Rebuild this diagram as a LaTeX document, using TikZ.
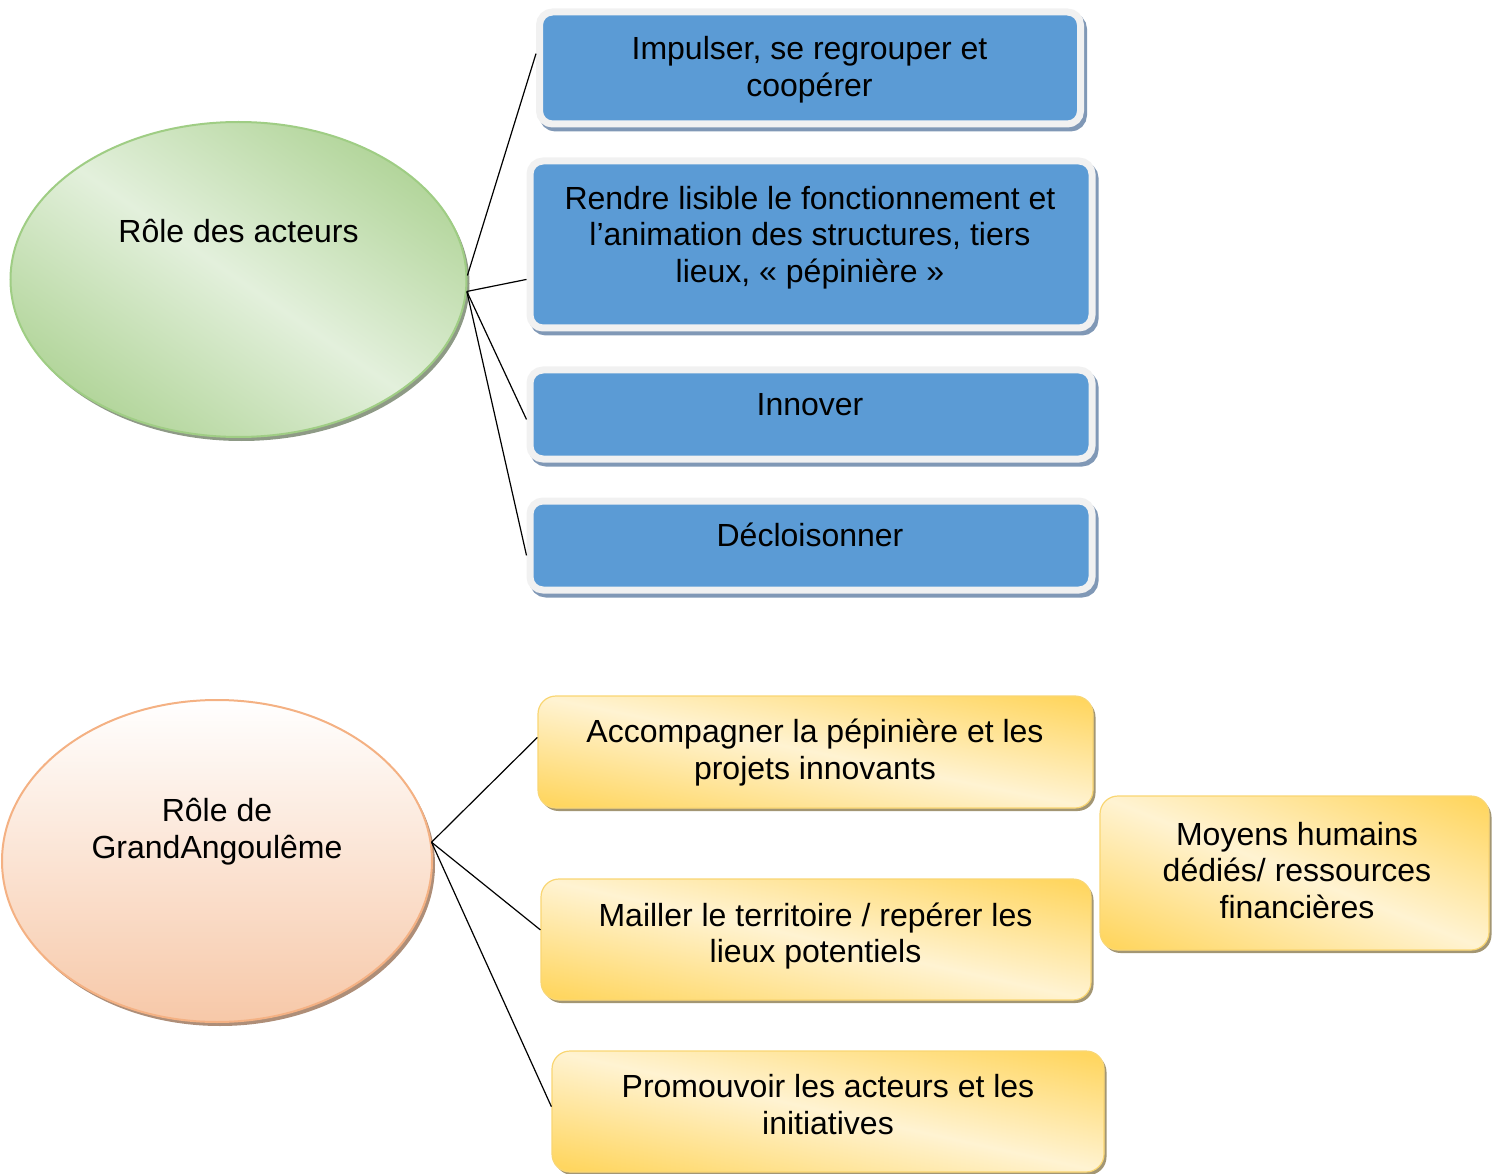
\documentclass[tikz,border=0pt]{standalone}
\usepackage{fontspec}
\setmainfont{Liberation Sans}
\usepackage{tikz}
\usepackage{xcolor}
\usetikzlibrary{shapes.geometric,shadows}

\definecolor{bleu}{HTML}{5B9BD5}
\definecolor{bordbleu}{HTML}{F1F1F1}
\definecolor{ombrebleu}{HTML}{8098B6}
\definecolor{orfonce}{HTML}{FFD660}
\definecolor{orclair}{HTML}{FFF3D2}
\definecolor{bordor}{HTML}{F9D673}
\definecolor{ombreor}{HTML}{A39673}
\definecolor{vertfonce}{HTML}{A9D08E}
\definecolor{vertclair}{HTML}{E3F0DC}
\definecolor{bordvert}{HTML}{9FCD84}
\definecolor{ombrevert}{HTML}{8E9A86}
\definecolor{peche}{HTML}{F7C8A8}
\definecolor{bordpeche}{HTML}{F4B183}
\definecolor{ombrepeche}{HTML}{AE8E78}

\pgfdeclarehorizontalshading{reflor}{100bp}{color(0bp)=(orfonce); color(17bp)=(orfonce);
  color(50bp)=(orclair); color(83bp)=(orfonce); color(100bp)=(orfonce)}
\pgfdeclarehorizontalshading{reflvert}{100bp}{color(0bp)=(vertfonce); color(20bp)=(vertfonce);
  color(50bp)=(vertclair); color(80bp)=(vertfonce); color(100bp)=(vertfonce)}

\tikzset{
  texte/.style={align=center, inner sep=0pt, font=\fontsize{32}{36.7}\selectfont},
  lien/.style={line width=1.2pt},
  % degrade en diagonale, etire sur la boite
  degrade/.style={path picture={
    \pgftransformreset
    \pgfpointdiff{\pgfpointanchor{path picture bounding box}{south west}}{\pgfpointanchor{path picture bounding box}{north east}}%
    \pgfgetlastxy{\largeur}{\hauteur}%
    \pgfmathsetmacro\echx{\largeur/50}%
    \pgfmathsetmacro\echy{\hauteur/50}%
    \pgftransformshift{\pgfpointanchor{path picture bounding box}{center}}%
    \pgftransformxscale{\echx}\pgftransformyscale{\echy}\pgftransformrotate{45}%
    \pgflowlevelsynccm
    \pgfuseshading{#1}}},
  boitebleue/.style={rectangle, rounded corners=13pt, fill=bleu, draw=bordbleu, line width=7pt,
    drop shadow={shadow xshift=3pt, shadow yshift=-4pt, fill=ombrebleu, draw=ombrebleu, opacity=1}},
  boiteor/.style={rectangle, rounded corners=18pt, fill=orclair, degrade=reflor, draw=bordor, line width=1.2pt,
    drop shadow={shadow xshift=2.5pt, shadow yshift=-3pt, fill=ombreor, opacity=1}},
}

\begin{document}
\begin{tikzpicture}[x=1pt,y=-1pt]
  \useasboundingbox (0,0) rectangle (1492,1174);

  % role des acteurs
  \node[ellipse, minimum width=456pt, minimum height=315pt, inner sep=0pt, fill=vertclair, degrade=reflvert,
    draw=bordvert, line width=2pt, drop shadow={shadow xshift=3pt, shadow yshift=-4pt, fill=ombrevert, opacity=1}]
    (acteurs) at (238.5,279.5) {};
  \node[texte] (tacteurs) at (238.5,231) {Rôle des acteurs};

  \node[boitebleue, minimum width=541pt, minimum height=112pt] (impulser) at (810,68) {};
  \node[boitebleue, minimum width=562pt, minimum height=167pt] (lisible) at (811,244.5) {};
  \node[boitebleue, minimum width=562pt, minimum height=89pt] (innover) at (811,414.5) {};
  \node[boitebleue, minimum width=562pt, minimum height=89pt] (decloisonner) at (811,545.5) {};

  \node[texte] (timpulser) at (809.5,69.5) {Impulser, se regrouper et\\coopérer};
  \node[texte] (tlisible) at (810,237.5) {Rendre lisible le fonctionnement et\\l’animation des structures, tiers\\lieux, « pépinière »};
  \node[texte] (tinnover) at (810,405) {Innover};
  \node[texte] (tdecloisonner) at (810,534.5) {Décloisonner};

  \draw[lien] (acteurs.1) -- (impulser.177.5);
  \draw[lien] (acteurs.-3) -- (lisible.187);
  \draw[lien] (acteurs.-3) -- (innover.181.3);
  \draw[lien] (acteurs.-3) -- (decloisonner.182.1);

  % role de GrandAngouleme
  \node[ellipse, minimum width=430pt, minimum height=322pt, inner sep=0pt, top color=white, bottom color=peche,
    draw=bordpeche, line width=2pt, drop shadow={shadow xshift=3pt, shadow yshift=-4pt, fill=ombrepeche, opacity=1}]
    (ga) at (217,861) {};
  \node[texte] (tga) at (217,832) {Rôle de\\GrandAngoulême};

  \node[boiteor, minimum width=555pt, minimum height=112pt] (accompagner) at (815.5,752) {};
  \node[boiteor, minimum width=550pt, minimum height=121pt] (mailler) at (816,939.5) {};
  \node[boiteor, minimum width=552pt, minimum height=121pt] (promouvoir) at (828,1111.5) {};
  \node[boiteor, minimum width=389pt, minimum height=154pt] (moyens) at (1294.5,873) {};

  \node[texte] (taccompagner) at (815,752.5) {Accompagner la pépinière et les\\projets innovants};
  \node[texte] (tmailler) at (815.5,936) {Mailler le territoire / repérer les\\lieux potentiels};
  \node[texte] (tpromouvoir) at (828,1104.5) {Promouvoir les acteurs et les\\initiatives};
  \node[texte] (tmoyens) at (1297,870.5) {Moyens humains\\dédiés/ ressources\\financières};

  \draw[lien] (ga.5) -- (accompagner.177.7);
  \draw[lien] (ga.5) -- (mailler.178.9);
  \draw[lien] (ga.5) -- (promouvoir.179.3);
\end{tikzpicture}
\end{document}
